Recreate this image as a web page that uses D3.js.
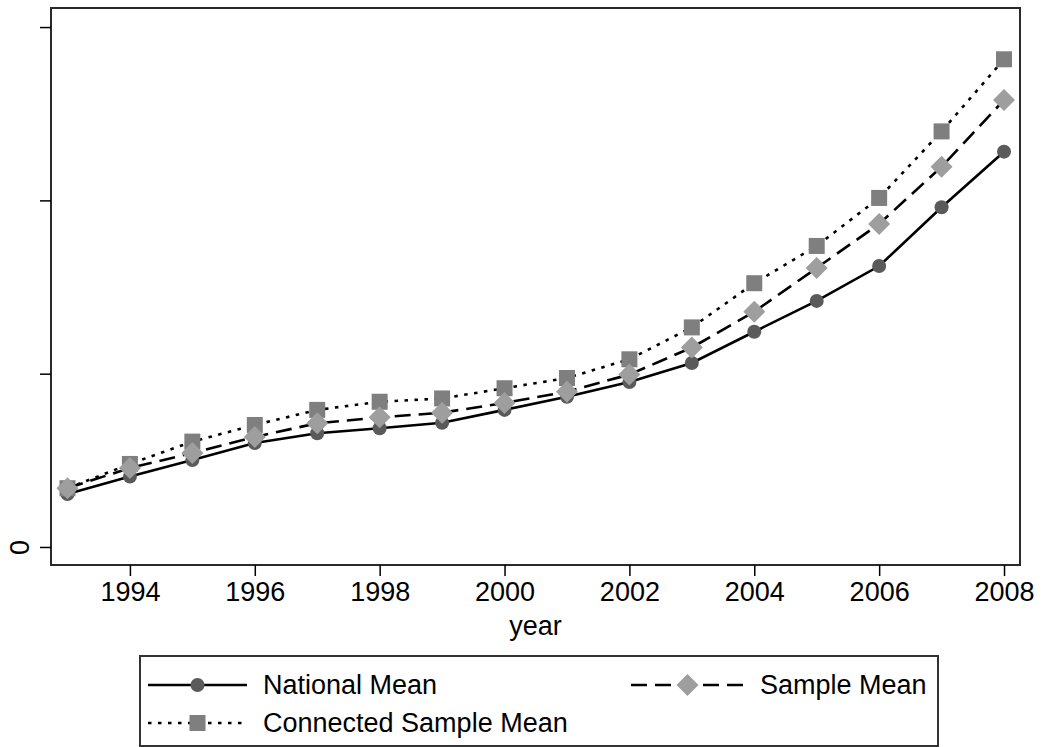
<!DOCTYPE html>
<html>
<head>
<meta charset="utf-8">
<script src="https://cdn.jsdelivr.net/npm/d3@7"></script>
<style>
  html, body { margin: 0; padding: 0; background: #fff; }
  svg { display: block; font-family: Arial, "Liberation Sans", sans-serif; }
</style>
</head>
<body>
<svg id="chart" width="1043" height="747"></svg>
<script>
// Yearly means, 1993-2008
const years = [1993, 1994, 1995, 1996, 1997, 1998, 1999, 2000, 2001, 2002, 2003, 2004, 2005, 2006, 2007, 2008];
const nationalMean = [30.6, 40.6, 50.2, 60.0, 65.6, 68.5, 71.7, 79.1, 86.7, 95.2, 106.2, 124.2, 142.0, 162.1, 196.0, 228.1];
const sampleMean = [33.9, 45.6, 54.2, 63.5, 71.4, 74.8, 77.5, 83.1, 89.6, 99.5, 115.1, 135.8, 161.0, 186.4, 219.4, 257.9];
const connectedMean = [33.9, 47.9, 60.8, 70.4, 79.1, 83.8, 85.7, 91.6, 97.5, 108.3, 126.7, 152.2, 173.7, 201.4, 239.8, 281.4];
const xTicks = [1994, 1996, 1998, 2000, 2002, 2004, 2006, 2008];
const yTicks = [0, 100, 200, 300];
const yTickLabels = ["0", "", "", ""];
const seriesNames = ["National Mean", "Sample Mean", "Connected Sample Mean"];

const svg = d3.select("#chart");
const plot = { left: 51, right: 1020, top: 8, bottom: 565 };

const x = d3.scaleLinear().domain([1992.736, 2008.256]).range([plot.left, plot.right]);
const y = d3.scaleLinear().domain([-10.4, 311]).range([plot.bottom, plot.top]);

const styles = {
  national: { dash: null, marker: "circle", fill: "#5a5a5a" },
  sample: { dash: "16,8", marker: "diamond", fill: "#9e9e9e" },
  connected: { dash: "3.5,6.5", marker: "square", fill: "#7f7f7f" }
};
const lineWidth = 2.6;

function drawMarker(g, type, cx, cy, fill) {
  if (type === "circle") {
    g.append("circle").attr("cx", cx).attr("cy", cy).attr("r", 7).attr("fill", fill);
  } else if (type === "square") {
    g.append("rect").attr("x", cx - 8).attr("y", cy - 8).attr("width", 16).attr("height", 16).attr("fill", fill);
  } else {
    const s = 11;
    g.append("path")
      .attr("d", `M${cx},${cy - s}L${cx + s},${cy}L${cx},${cy + s}L${cx - s},${cy}Z`)
      .attr("fill", fill);
  }
}

// Plot region border
svg.append("rect")
  .attr("x", plot.left).attr("y", plot.top)
  .attr("width", plot.right - plot.left).attr("height", plot.bottom - plot.top)
  .attr("fill", "none").attr("stroke", "#2a2a2a").attr("stroke-width", 2);

// Axes
const xAxis = d3.axisBottom(x).tickValues(xTicks).tickFormat(d3.format("d")).tickSize(11).tickSizeOuter(0);
const gx = svg.append("g").attr("transform", `translate(0,${plot.bottom})`).call(xAxis);
gx.select(".domain").remove();
gx.selectAll(".tick line").attr("stroke", "#000").attr("stroke-width", 1.5);
gx.selectAll(".tick text").attr("font-size", 27).attr("fill", "#000").attr("y", 17).attr("dy", "0.71em");

const yAxis = d3.axisLeft(y).tickValues(yTicks).tickFormat((d, i) => yTickLabels[i]).tickSize(11).tickSizeOuter(0);
const gy = svg.append("g").attr("transform", `translate(${plot.left},0)`).call(yAxis);
gy.select(".domain").remove();
gy.selectAll(".tick line").attr("stroke", "#000").attr("stroke-width", 1.5);
gy.selectAll(".tick text")
  .attr("font-size", 27).attr("fill", "#000")
  .attr("x", null).attr("dy", null)
  .attr("text-anchor", "middle")
  .attr("transform", "translate(-22,0) rotate(-90)");

// Axis title
svg.append("text")
  .attr("x", (plot.left + plot.right) / 2).attr("y", 635)
  .attr("text-anchor", "middle").attr("font-size", 27).attr("fill", "#000")
  .text("year");

// Series: lines and markers, diamonds drawn last
const seriesData = [
  { key: "national", values: nationalMean },
  { key: "connected", values: connectedMean },
  { key: "sample", values: sampleMean }
];

const line = d3.line().x(d => x(d[0])).y(d => y(d[1]));

seriesData.forEach(s => {
  const st = styles[s.key];
  const pts = years.map((yr, i) => [yr, s.values[i]]);
  const g = svg.append("g");
  g.append("path")
    .attr("d", line(pts))
    .attr("fill", "none").attr("stroke", "#000").attr("stroke-width", lineWidth)
    .attr("stroke-dasharray", st.dash);
  pts.forEach(p => drawMarker(g, st.marker, x(p[0]), y(p[1]), st.fill));
});

// Legend
const legend = svg.append("g");
legend.append("rect")
  .attr("x", 140).attr("y", 656).attr("width", 798).attr("height", 90)
  .attr("fill", "#fff").attr("stroke", "#333").attr("stroke-width", 2);

const legendItems = [
  { key: "national", name: seriesNames[0], x0: 148, x1: 247, cy: 685 },
  { key: "sample", name: seriesNames[1], x0: 631, x1: 744, cy: 685 },
  { key: "connected", name: seriesNames[2], x0: 148, x1: 247, cy: 723 }
];
legendItems.forEach(it => {
  const st = styles[it.key];
  legend.append("line")
    .attr("x1", it.x0).attr("x2", it.x1).attr("y1", it.cy).attr("y2", it.cy)
    .attr("stroke", "#000").attr("stroke-width", lineWidth)
    .attr("stroke-dasharray", st.dash);
  drawMarker(legend, st.marker, (it.x0 + it.x1) / 2, it.cy, st.fill);
  legend.append("text")
    .attr("x", it.x1 + 16).attr("y", it.cy + 9)
    .attr("font-size", 27).attr("fill", "#000")
    .text(it.name);
});
</script>
</body>
</html>
